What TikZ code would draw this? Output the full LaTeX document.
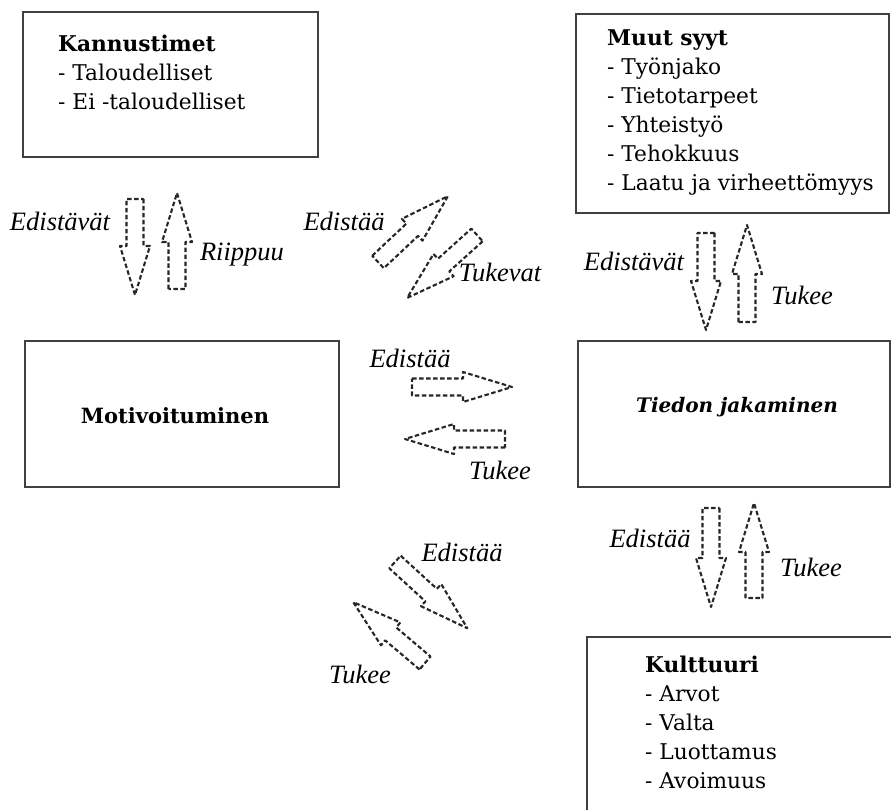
\documentclass[tikz,border=0pt]{standalone}
\usepackage{fontspec}
\setmainfont{DejaVu Serif}
\newfontfamily\labelfont{Liberation Serif}
\begin{document}
\begin{tikzpicture}[x=1pt,y=-1pt,
  box/.style={draw=black!75, line width=1.6pt, inner sep=0pt},
  % multi-line nodes: the base anchor sits on the last line's baseline
  boxtext/.style={align=left, inner sep=0pt, anchor=base west,
    font=\fontsize{21.7}{29}\selectfont},
  bigtext/.style={inner sep=0pt, font=\fontsize{21}{24}\selectfont\bfseries},
  lbl/.style={inner sep=0pt, font=\labelfont\itshape\fontsize{26.5}{30}\selectfont},
  blockarrow/.pic={
    \draw[dash pattern=on 4.5pt off 2.5pt, line width=2.1pt, line join=round, draw=black!85]
      (0,-8.5) -- ({#1-49},-8.5) -- ({#1-49},-15) -- (#1,0)
      -- ({#1-49},15) -- ({#1-49},8.5) -- (0,8.5) -- cycle;
  }]
\useasboundingbox (0,0) rectangle (891,810);

% boxes
\node[box, minimum width=295pt, minimum height=145pt] (kann) at (170.5,84.5) {};
\node[box, minimum width=313pt, minimum height=199pt] (muut) at (732.5,113.5) {};
\node[box, minimum width=314pt, minimum height=146pt] (moti) at (182,414) {};
\node[box, minimum width=312pt, minimum height=146pt] (tied) at (734,414) {};
\node[box, minimum width=333pt, minimum height=203pt] (kult) at (753.5,738.5) {};

% box contents
\node[boxtext] (kanntxt) at (58,110) {\textbf{Kannustimet}\\- Taloudelliset\\- Ei -taloudelliset};
\node[boxtext] (muuttxt) at (607,191) {\textbf{Muut syyt}\\- Työnjako\\- Tietotarpeet\\- Yhteistyö\\- Tehokkuus\\- Laatu ja virheettömyys};
\node[boxtext] (kulttxt) at (645,788) {\textbf{Kulttuuri}\\- Arvot\\- Valta\\- Luottamus\\- Avoimuus};
\node[bigtext] (motitxt) at (175,416) {Motivoituminen};
\node[bigtext, font=\fontsize{20}{24}\selectfont\bfseries\itshape] (tiedtxt) at (737,407) {Tiedon jakaminen};

% block arrows
\pic[rotate=-90] at (135,199) {blockarrow=96};
\pic[rotate=90] at (177,289) {blockarrow=96};
\pic[rotate=-90] at (706,233) {blockarrow=97};
\pic[rotate=90] at (747,322) {blockarrow=97};
\pic[rotate=-90] at (711,508) {blockarrow=99};
\pic[rotate=90] at (754,598) {blockarrow=95};
\pic[rotate=0] at (412,387) {blockarrow=100};
\pic[rotate=180] at (505,439) {blockarrow=100};
\pic[rotate=43.3] at (378,262) {blockarrow=96};
\pic[rotate=222] at (477,235) {blockarrow=94};
\pic[rotate=-42.5] at (395,562) {blockarrow=98};
\pic[rotate=139.7] at (425,663) {blockarrow=94};

% arrow labels
\node[lbl] (l1) at (60,221) {Edistävät};
\node[lbl] (l2) at (242,255) {Riippuu};
\node[lbl] (l3) at (634,261) {Edistävät};
\node[lbl] (l4) at (802,295) {Tukee};
\node[lbl] (l5) at (650,538) {Edistää};
\node[lbl] (l6) at (811,567) {Tukee};
\node[lbl] (l7) at (410,358) {Edistää};
\node[lbl] (l8) at (500,470) {Tukee};
\node[lbl] (l9) at (344,221) {Edistää};
\node[lbl] (l10) at (500,272) {Tukevat};
\node[lbl] (l11) at (462,552) {Edistää};
\node[lbl] (l12) at (360,674) {Tukee};
\end{tikzpicture}
\end{document}
